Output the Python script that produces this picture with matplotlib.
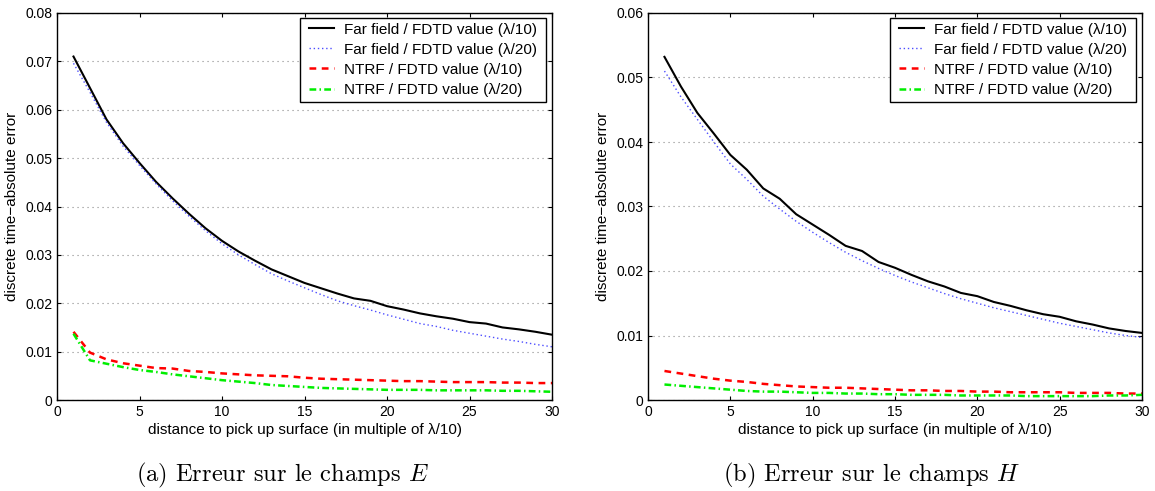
import matplotlib
matplotlib.use("Agg")
import matplotlib.pyplot as plt
from matplotlib.patches import Rectangle
from matplotlib.transforms import IdentityTransform

plt.rcParams['font.family'] = ['Liberation Sans', 'DejaVu Sans']
plt.rcParams['mathtext.fontset'] = 'cm'

x = list(range(1, 31))

E_far_10 = [0.0710, 0.0645, 0.0580, 0.0531, 0.0490, 0.0451, 0.0417, 0.0385, 0.0355, 0.0329,
            0.0307, 0.0288, 0.0270, 0.0256, 0.0242, 0.0231, 0.0220, 0.0210, 0.0205, 0.0194,
            0.0187, 0.0179, 0.0173, 0.0168, 0.0161, 0.0158, 0.0150, 0.0146, 0.0141, 0.0135]
E_far_20 = [0.0696, 0.0636, 0.0574, 0.0525, 0.0485, 0.0447, 0.0412, 0.0380, 0.0350, 0.0323,
            0.0300, 0.0280, 0.0261, 0.0246, 0.0232, 0.0218, 0.0205, 0.0195, 0.0186, 0.0176,
            0.0167, 0.0158, 0.0152, 0.0144, 0.0138, 0.0132, 0.0126, 0.0121, 0.0115, 0.0110]
E_ntrf_10 = [0.0141, 0.0098, 0.0084, 0.0076, 0.0071, 0.0066, 0.0065, 0.0060, 0.0058, 0.0055,
             0.0053, 0.0051, 0.0050, 0.0049, 0.0046, 0.0044, 0.0043, 0.0042, 0.0041, 0.0040,
             0.0039, 0.0039, 0.0038, 0.0037, 0.0037, 0.0037, 0.0036, 0.0036, 0.0035, 0.0035]
E_ntrf_20 = [0.0137, 0.0082, 0.0075, 0.0068, 0.0062, 0.0058, 0.0053, 0.0049, 0.0045, 0.0041,
             0.0038, 0.0035, 0.0031, 0.0029, 0.0027, 0.0025, 0.0024, 0.0023, 0.0022, 0.0021,
             0.0021, 0.0021, 0.0020, 0.0020, 0.0020, 0.0020, 0.0019, 0.0019, 0.0018, 0.0017]

H_far_10 = [0.0532, 0.0486, 0.0445, 0.0413, 0.0380, 0.0357, 0.0328, 0.0312, 0.0288, 0.0272,
            0.0256, 0.0239, 0.0231, 0.0214, 0.0205, 0.0194, 0.0184, 0.0176, 0.0166, 0.0161,
            0.0152, 0.0146, 0.0139, 0.0133, 0.0129, 0.0122, 0.0117, 0.0111, 0.0107, 0.0104]
H_far_20 = [0.0510, 0.0470, 0.0435, 0.0400, 0.0366, 0.0342, 0.0316, 0.0296, 0.0277, 0.0260,
            0.0244, 0.0229, 0.0216, 0.0204, 0.0193, 0.0183, 0.0174, 0.0165, 0.0157, 0.0150,
            0.0143, 0.0137, 0.0131, 0.0125, 0.0119, 0.0114, 0.0109, 0.0104, 0.0100, 0.0097]
H_ntrf_10 = [0.0045, 0.0041, 0.0037, 0.0033, 0.0030, 0.0028, 0.0025, 0.0023, 0.0021, 0.0020,
             0.0019, 0.0019, 0.0018, 0.0017, 0.0016, 0.0015, 0.0015, 0.0014, 0.0014, 0.0013,
             0.0013, 0.0012, 0.0012, 0.0012, 0.0012, 0.0011, 0.0011, 0.0011, 0.0010, 0.0010]
H_ntrf_20 = [0.0024, 0.0022, 0.0020, 0.0018, 0.0016, 0.0014, 0.0013, 0.0013, 0.0012, 0.0011,
             0.0011, 0.0010, 0.0010, 0.0009, 0.0009, 0.0008, 0.0008, 0.0008, 0.0007, 0.0007,
             0.0007, 0.0007, 0.0006, 0.0006, 0.0006, 0.0006, 0.0006, 0.0007, 0.0007, 0.0008]

series_labels = ["Far field / FDTD value (λ/10)", "Far field / FDTD value (λ/20)",
                 "NTRF / FDTD value (λ/10)", "NTRF / FDTD value (λ/20)"]

x_ticks = [0, 5, 10, 15, 20, 25, 30]
x_tick_labels = ["0", "5", "10", "15", "20", "25", "30"]
E_y_ticks = [0, 0.01, 0.02, 0.03, 0.04, 0.05, 0.06, 0.07, 0.08]
E_y_tick_labels = ["0", "0.01", "0.02", "0.03", "0.04", "0.05", "0.06", "0.07", "0.08"]
H_y_ticks = [0, 0.01, 0.02, 0.03, 0.04, 0.05, 0.06]
H_y_tick_labels = ["0", "0.01", "0.02", "0.03", "0.04", "0.05", "0.06"]

xlabel = "distance to pick up surface (in multiple of λ/10)"
ylabel = "discrete time−absolute error"
captions = [r"(a) Erreur sur le champs $E$", r"(b) Erreur sur le champs $H$"]

W, H = 1155, 491
fig = plt.figure(figsize=(W / 100, H / 100), dpi=100)

TICK_FS = 10
LABEL_FS = 11
LEG_FS = 11
AX_TOP, AX_BOT = 13, 400


def make_axes(left_px, right_px, data, yticks, ylabels):
    ax = fig.add_axes([left_px / W, 1 - AX_BOT / H, (right_px - left_px) / W, (AX_BOT - AX_TOP) / H])
    f10, f20, n10, n20 = data
    ax.plot(x, f10, color='black', lw=1.5, label=series_labels[0])
    ax.plot(x, f20, color='#4d4dff', lw=1.0, linestyle=(0, (1, 2)), label=series_labels[1])
    ax.plot(x, n10, color='#ff0000', lw=1.8, linestyle=(0, (2.7, 2.2)), label=series_labels[2])
    ax.plot(x, n20, color='#00ee00', lw=1.8, linestyle=(0, (2.7, 1.3, 0.6, 1.3)), label=series_labels[3])
    ax.set_xlim(0, 30)
    ax.set_ylim(yticks[0], yticks[-1])
    ax.set_xticks(x_ticks)
    ax.set_xticklabels(x_tick_labels, fontsize=TICK_FS)
    ax.set_yticks(yticks)
    ax.set_yticklabels(ylabels, fontsize=TICK_FS)
    ax.tick_params(direction='in', length=3, width=0.8, top=True, right=True, pad=3.5)
    ax.yaxis.grid(True, color='#8a8a8a', linestyle=(0, (1, 3.5)), lw=0.8)
    ax.set_axisbelow(True)
    for s in ax.spines.values():
        s.set_linewidth(1.0)
        s.set_color('black')
    ax.set_xlabel(xlabel, fontsize=LABEL_FS, labelpad=3)
    ax.set_ylabel(ylabel, fontsize=LABEL_FS, labelpad=4)
    anchor_x = (right_px - 6 - 4.5) / W
    anchor_y = 1 - (AX_TOP + 5) / H
    leg = ax.legend(loc='upper right', bbox_to_anchor=(anchor_x, anchor_y),
                    bbox_transform=fig.transFigure, fontsize=LEG_FS, frameon=False,
                    borderaxespad=0, borderpad=0.3, labelspacing=0.4,
                    handlelength=1.64, handletextpad=0.63)
    leg.set_zorder(6)
    return ax, leg


axE, legE = make_axes(57, 552, (E_far_10, E_far_20, E_ntrf_10, E_ntrf_20), E_y_ticks, E_y_tick_labels)
axH, legH = make_axes(648, 1142, (H_far_10, H_far_20, H_ntrf_10, H_ntrf_20), H_y_ticks, H_y_tick_labels)

fig.canvas.draw()
for ax, leg in ((axE, legE), (axH, legH)):
    bb = leg.get_window_extent()
    extra = 4.5
    rect = Rectangle((bb.x0 - extra, bb.y0), bb.width + 2 * extra, bb.height,
                     transform=IdentityTransform(), facecolor='white', edgecolor='black',
                     lw=1.0, zorder=5.5, clip_on=False)
    ax.add_artist(rect)

fig.text(282 / W, 1 - 475 / H, captions[0], family='cmr10', fontsize=17.6,
         ha='center', va='center')
fig.text(872 / W, 1 - 475 / H, captions[1], family='cmr10', fontsize=17.6,
         ha='center', va='center')

fig.savefig("out.png", dpi=100)
